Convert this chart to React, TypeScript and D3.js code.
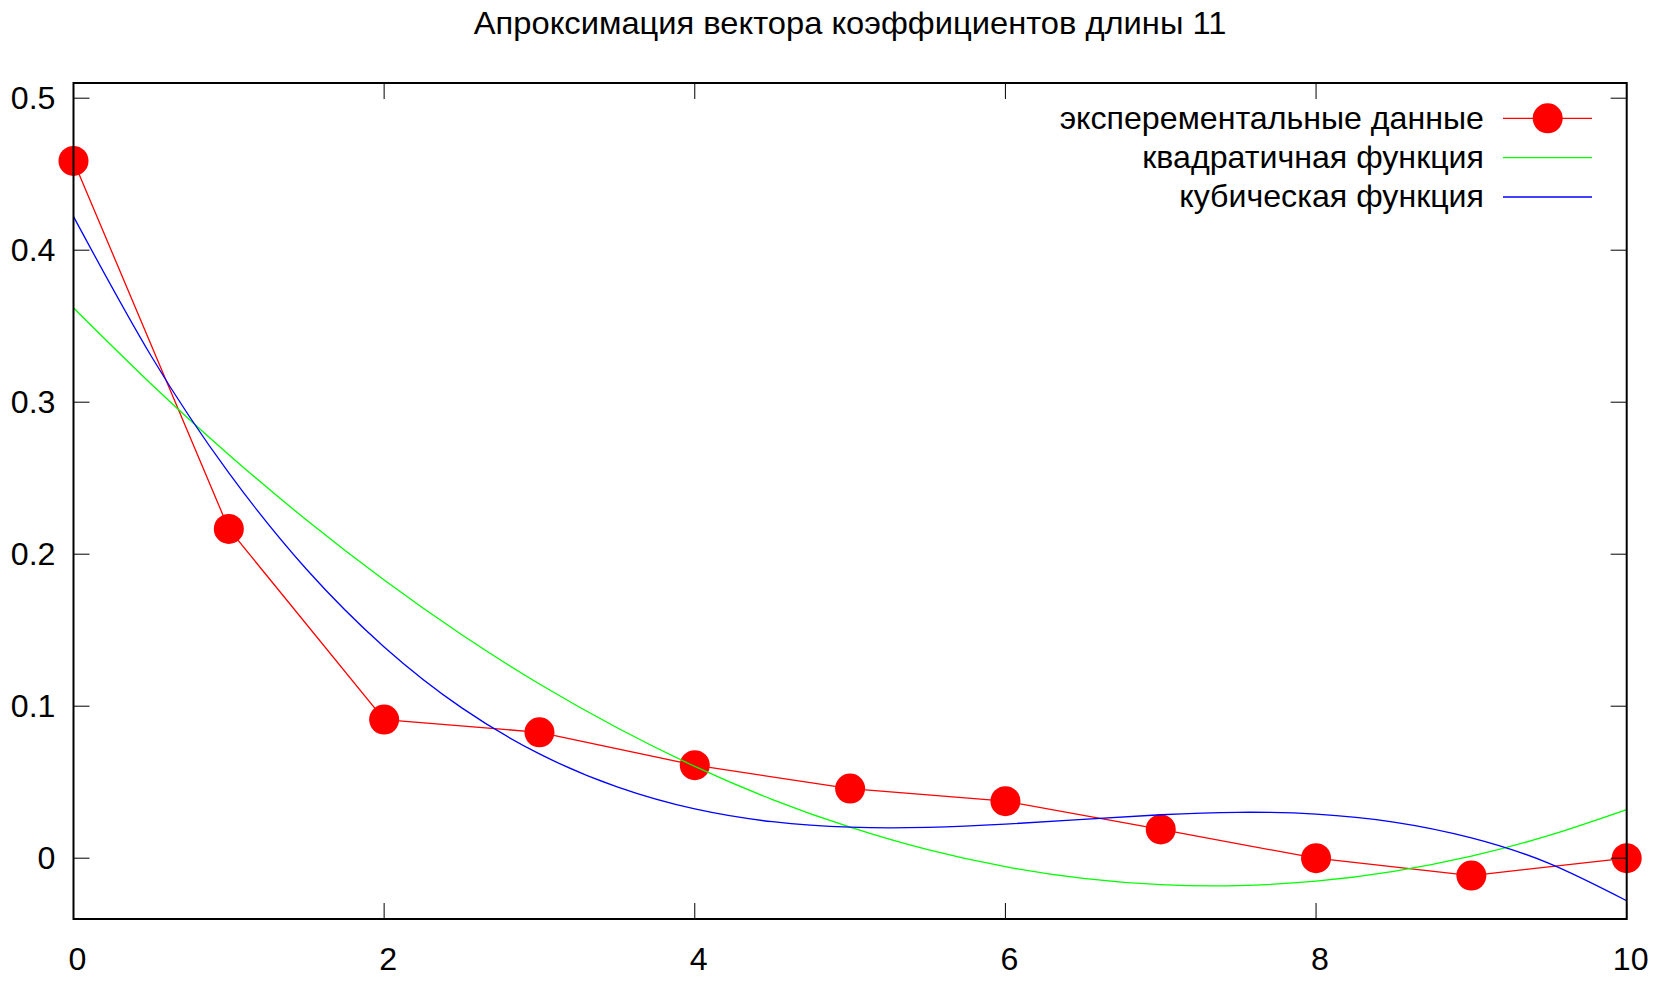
import React from "react";
import * as d3 from "d3";

// ---- data ----
const titleText = "Апроксимация вектора коэффициентов длины 11";
const seriesNames = ["эксперементальные данные", "квадратичная функция", "кубическая функция"];
const seriesColors = ["#ff0000", "#00ff00", "#0000ff"];

const pointX = [0, 1, 2, 3, 4, 5, 6, 7, 8, 9, 10];
const pointY = [0.4587, 0.2166, 0.0912, 0.0828, 0.0612, 0.0458, 0.0375, 0.0189, 0.0, -0.0114, 0.0];

const curveX = [0, 0.5, 1, 1.5, 2, 2.5, 3, 3.5, 4, 4.5, 5, 5.5, 6, 6.5, 7, 7.5, 8, 8.5, 9, 9.5, 10];
const quadY = [0.3621, 0.312, 0.2655, 0.2225, 0.183, 0.147, 0.1146, 0.0858, 0.0604, 0.0386, 0.0204,
  0.0056, -0.0056, -0.0133, -0.0174, -0.018, -0.0151, -0.0086, 0.0014, 0.015, 0.032];
const cubicY = [0.4221, 0.3304, 0.2535, 0.1901, 0.139, 0.0989, 0.0686, 0.0469, 0.0324, 0.024, 0.0204,
  0.0203, 0.0224, 0.0256, 0.0286, 0.0302, 0.029, 0.0238, 0.0134, -0.0034, -0.028];

const xTicks = [0, 2, 4, 6, 8, 10];
const yTicks = [0, 0.1, 0.2, 0.3, 0.4, 0.5];
const xDomain = [0, 10];
const yDomain = [-0.04, 0.51];

// ---- layout ----
const W = 1653, H = 981;
const L = 73.5, R = 1626.7, T = 83, B = 919;
const FONT = "'Liberation Sans', Arial, Helvetica, sans-serif";
const FS = 30.5;
const SX = 1.055;
const TICK = 16;

function T2({ x, y, anchor, sx = SX, children }: { x: number; y: number; anchor: "start" | "middle" | "end"; sx?: number; children: React.ReactNode }) {
  return (
    <text transform={`translate(${x},${y}) scale(${sx},1)`} fontSize={FS} textAnchor={anchor} fill="#000">
      {children}
    </text>
  );
}

export default function App() {
  const x = d3.scaleLinear().domain(xDomain).range([L, R]);
  const y = d3.scaleLinear().domain(yDomain).range([B, T]);

  const dataLine = d3.line<number>().x((_, i) => x(pointX[i])).y((v) => y(v));
  const fitLine = d3.line<number>().x((_, i) => x(curveX[i])).y((v) => y(v)).curve(d3.curveNatural);

  const legendRows = [118.3, 157.7, 197];
  const legTextX = 1484;
  const legX1 = 1503, legX2 = 1592, legMarkX = 1547.7;

  return (
    <svg width={W} height={H} style={{ position: "absolute", left: 0, top: 0, background: "#fff" }}
      fontFamily={FONT}>
      <rect x={0} y={0} width={W} height={H} fill="#fff" />
      <T2 x={(L + R) / 2} y={34} anchor="middle" sx={1.072}>{titleText}</T2>

      {/* legend */}
      {seriesNames.map((name, i) => (
        <g key={name}>
          <T2 x={legTextX} y={legendRows[i] + 0.26 * FS + 2.5} anchor="end">{name}</T2>
          <line x1={legX1} x2={legX2} y1={legendRows[i]} y2={legendRows[i]} stroke={seriesColors[i]} strokeWidth={1.3} />
          {i === 0 && <circle cx={legMarkX} cy={legendRows[i]} r={15} fill={seriesColors[0]} />}
        </g>
      ))}

      {/* data */}
      <path d={dataLine(pointY) || ""} fill="none" stroke={seriesColors[0]} strokeWidth={1.3} />
      {pointY.map((v, i) => (
        <circle key={i} cx={x(pointX[i])} cy={y(v)} r={15} fill={seriesColors[0]} />
      ))}
      <path d={fitLine(quadY) || ""} fill="none" stroke={seriesColors[1]} strokeWidth={1.3} />
      <path d={fitLine(cubicY) || ""} fill="none" stroke={seriesColors[2]} strokeWidth={1.3} />

      {/* ticks */}
      {xTicks.map((t) => (
        <g key={"x" + t}>
          <line x1={x(t)} x2={x(t)} y1={B} y2={B - TICK} stroke="#000" strokeWidth={1} />
          <line x1={x(t)} x2={x(t)} y1={T} y2={T + TICK} stroke="#000" strokeWidth={1} />
          <T2 x={x(t) + 4} y={970} anchor="middle">{String(t)}</T2>
        </g>
      ))}
      {yTicks.map((t) => (
        <g key={"y" + t}>
          <line x1={L} x2={L + TICK} y1={y(t)} y2={y(t)} stroke="#000" strokeWidth={1} />
          <line x1={R} x2={R - TICK} y1={y(t)} y2={y(t)} stroke="#000" strokeWidth={1} />
          <T2 x={55.5} y={y(t) + 0.358 * FS} anchor="end">{d3.format("~g")(t)}</T2>
        </g>
      ))}

      {/* border */}
      <rect x={L} y={T} width={R - L} height={B - T} fill="none" stroke="#000" strokeWidth={2} />
    </svg>
  );
}
